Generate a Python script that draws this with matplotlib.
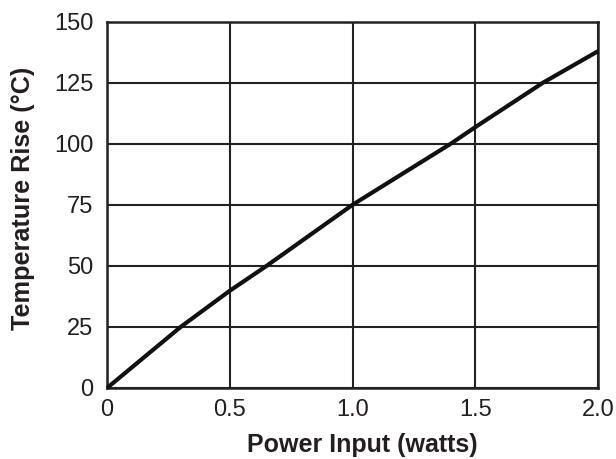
import matplotlib
matplotlib.use("Agg")
import matplotlib.pyplot as plt

power_w = [0, 0.30, 0.50, 0.65, 1.00, 1.40, 1.50, 1.776, 2.00]
temp_rise = [0, 25, 39.8, 50, 75, 100, 106.8, 125, 137.9]
x_ticks = [0, 0.5, 1.0, 1.5, 2.0]
x_tick_labels = ["0", "0.5", "1.0", "1.5", "2.0"]
y_ticks = [0, 25, 50, 75, 100, 125, 150]

plt.rcParams['font.family'] = ['Liberation Sans', 'DejaVu Sans']

fig = plt.figure(figsize=(6.16, 4.59), dpi=100)
ax = fig.add_axes([0.174, 0.155, 0.797, 0.798])
ax.plot(power_w, temp_rise, color='#111111', lw=3.0, solid_capstyle='butt',
        solid_joinstyle='round', zorder=3, clip_on=False)
ax.set_xlim(0, 2.0)
ax.set_ylim(0, 150)
ax.set_xticks(x_ticks)
ax.set_xticklabels(x_tick_labels)
ax.set_yticks(y_ticks)
ax.grid(True, color='#222222', lw=1.5)
ax.tick_params(length=0, labelsize=17, colors='#231f20')
ax.tick_params(axis='x', pad=8)
ax.tick_params(axis='y', pad=10)
for s in ax.spines.values():
    s.set_linewidth(1.8)
    s.set_color('#222222')
ax.set_xlabel("Power Input (watts)", fontsize=18, fontweight='bold', color='#231f20')
ax.set_ylabel("Temperature Rise (°C)", fontsize=18.2, fontweight='bold', color='#231f20')
ax.xaxis.set_label_coords(0.519, -0.122)
ax.yaxis.set_label_coords(-0.147, 0.516)
fig.savefig("out.png", dpi=100)
